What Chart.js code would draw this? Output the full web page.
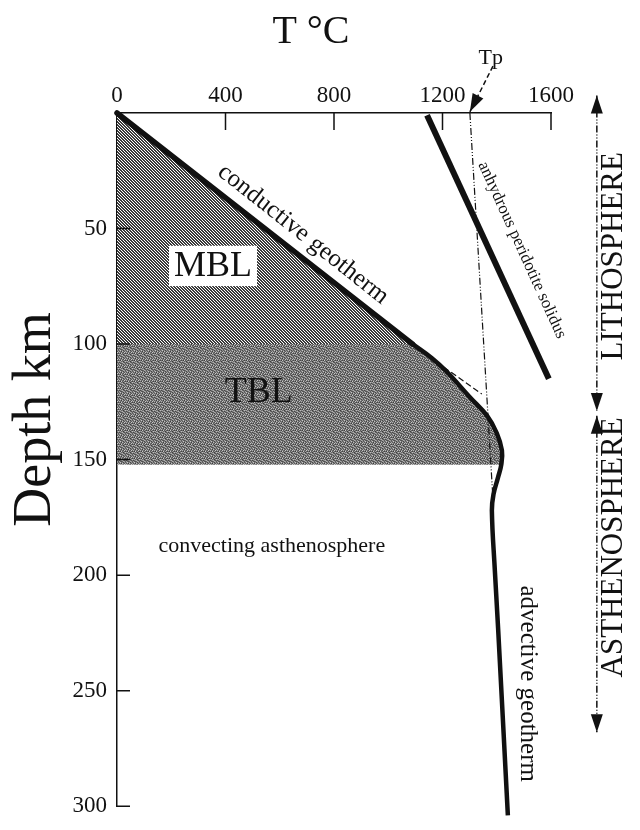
<!DOCTYPE html>
<html>
<head>
<meta charset="utf-8">
<title>Geotherm, MBL and TBL</title>
<script src="https://cdn.jsdelivr.net/npm/chart.js@4.4.0/dist/chart.umd.min.js"></script>
<style>
  html, body { margin:0; padding:0; background:#fff; }
  #geo { display:block; }
</style>
</head>
<body>
<canvas id="geo" width="640" height="830"></canvas>
<script>
'use strict';

/* ---- values: temperature (°C) vs depth (km) ---- */
const xTicks       = [0, 400, 800, 1200, 1600];
const yTicks       = [0, 50, 100, 150, 200, 250, 300];

const conductiveT  = [0, 1090];
const conductiveZ  = [0, 100];
const advectiveT   = [1090, 1160, 1216, 1301, 1364, 1400, 1419, 1417, 1404, 1388, 1382, 1393, 1405, 1441];
const advectiveZ   = [100, 106, 112, 123, 131, 138.5, 146, 152, 158, 165, 172, 198, 223, 304];
const solidusT     = [1143, 1592];
const solidusZ     = [1, 115];
const adiabatT     = [1301, 1385];           // Tp potential temperature adiabat
const adiabatZ     = [0, 165];
const extrapT      = [1205, 1345];           // conductive geotherm extrapolated
const extrapZ      = [110, 121.6];

const mblT = [0, 1090];                      // mechanical boundary layer (filled down to 100 km)
const mblZ = [0, 100];
const tblT = [0, 1090, 1160, 1216, 1301, 1364, 1400, 1419, 1417];   // thermal boundary layer (to 152 km)
const tblZ = [100, 100, 106, 112, 123, 131, 138.5, 146, 152];

// arrows (right-hand bracket and the Tp pointer), end points are the tips
const lithoT = [1769, 1769];
const lithoZ = [-7.6, 129];
const asthT  = [1769, 1769];
const asthZ  = [131, 268];
const tpT    = [1386, 1301];
const tpZ    = [-20.3, -0.5];

const INK   = '#111';
const SERIF = "'Liberation Serif', 'Times New Roman', serif";

// text placed in data units
const labels = [
  { text:'T °C',                         t:715,  z:-34.7, size:40, rot:0 },
  { text:'Depth km',                     t:-299, z:132.6, size:54, rot:-90 },
  { text:'MBL',                          t:354,  z:66.5,  size:36, rot:0, box:true },
  { text:'TBL',                          t:523,  z:120.8, size:36, rot:0 },
  { text:'conductive geotherm',          t:686,  z:52.5,  size:25, rot:38.4 },
  { text:'anhydrous peridotite solidus', t:1493, z:59.3,  size:17, rot:65.6 },
  { text:'convecting asthenosphere',     t:571,  z:187.7, size:22, rot:0 },
  { text:'advective geotherm',           t:1515, z:247,   size:25, rot:90 },
  { text:'LITHOSPHERE',                  t:1830, z:62,    size:31, rot:-90 },
  { text:'ASTHENOSPHERE',                t:1830, z:188,   size:31, rot:-90 },
  { text:'Tp',                           t:1378, z:-23.7, size:22, rot:0 },
];

// which arrow lines get heads, and at which ends
const arrows = [
  { t: lithoT, z: lithoZ, heads: [0, 1] },
  { t: asthT,  z: asthZ,  heads: [0, 1] },
  { t: tpT,    z: tpZ,    heads: [1] },
];

const pts = (xs, ys) => xs.map((x, i) => ({ x, y: ys[i] }));

// fill textures
function hatchPattern() {
  const c = document.createElement('canvas');
  c.width = 3; c.height = 3;
  const g = c.getContext('2d');
  g.fillStyle = '#3a3a3a'; g.fillRect(0, 0, 3, 3);
  g.fillStyle = '#fff';
  for (let i = 0; i < 3; i++) g.fillRect(i, i, 1, 1);
  return g.createPattern(c, 'repeat');
}
function stipplePattern() {
  // hand-set grey levels for a mottled screen
  const tile = [
    [120, 200, 110, 130,  70, 140, 100],
    [ 90, 130,  60, 190, 120,  90, 170],
    [180, 100, 140, 110,  80, 200, 110],
    [110,  60, 200,  90, 150, 100,  70],
    [140, 170, 100, 120,  60, 130, 190],
    [ 70, 110, 150, 180, 110,  80, 120],
    [160,  90,  80, 100, 170, 150,  90],
  ];
  const c = document.createElement('canvas');
  c.width = 7; c.height = 7;
  const g = c.getContext('2d');
  tile.forEach((row, j) => row.forEach((v, i) => {
    g.fillStyle = `rgb(${v},${v},${v})`; g.fillRect(i, j, 1, 1);
  }));
  return g.createPattern(c, 'repeat');
}

function head(ctx, tx, ty, fx, fy, len, half) {
  const dx = tx - fx, dy = ty - fy;
  const d = Math.hypot(dx, dy) || 1;
  const ux = dx / d, uy = dy / d;
  const bx = tx - ux * len, by = ty - uy * len;
  ctx.beginPath();
  ctx.moveTo(tx, ty);
  ctx.lineTo(bx - uy * half, by + ux * half);
  ctx.lineTo(bx + uy * half, by - ux * half);
  ctx.closePath();
  ctx.fill();
}

const annotate = {
  id: 'annotate',
  afterDatasetsDraw(chart) {
    const { ctx, chartArea: a, scales: { x, y } } = chart;
    ctx.save();
    ctx.strokeStyle = INK;
    ctx.fillStyle = INK;
    ctx.lineWidth = 1.5;
    ctx.beginPath();
    xTicks.slice(1).forEach(v => {
      const px = x.getPixelForValue(v);
      ctx.moveTo(px, a.top); ctx.lineTo(px, a.top + 17);
    });
    yTicks.slice(1).forEach(v => {
      const py = y.getPixelForValue(v);
      ctx.moveTo(a.left, py); ctx.lineTo(a.left + 13, py);
    });
    ctx.stroke();

    arrows.forEach(ar => {
      const p = ar.t.map((t, i) => [x.getPixelForValue(t), y.getPixelForValue(ar.z[i])]);
      ar.heads.forEach(h => {
        const o = h === 0 ? p[1] : p[0];
        head(ctx, p[h][0], p[h][1], o[0], o[1], 18, 6);
      });
    });

    labels.forEach(l => {
      ctx.save();
      ctx.translate(x.getPixelForValue(l.t), y.getPixelForValue(l.z));
      ctx.rotate(l.rot * Math.PI / 180);
      ctx.font = `${l.size}px ${SERIF}`;
      ctx.textAlign = 'center';
      ctx.textBaseline = 'middle';
      if (l.box) {
        const w = ctx.measureText(l.text).width + 10;
        ctx.fillStyle = '#fff';
        ctx.fillRect(-w / 2, -l.size * 0.58, w, l.size * 1.12);
      }
      ctx.fillStyle = INK;
      ctx.fillText(l.text, 0, 0);
      ctx.restore();
    });
    ctx.restore();
  }
};

const line = (data, extra) => Object.assign({
  data, showLine: true, pointRadius: 0, borderColor: INK, borderWidth: 1.5,
  tension: 0, fill: false, clip: false,
}, extra);

new Chart(document.getElementById('geo'), {
  type: 'scatter',
  data: {
    datasets: [
      line(pts(conductiveT, conductiveZ), { borderWidth: 5.5, borderCapStyle: 'round' }),
      line(pts(advectiveT, advectiveZ),   { borderWidth: 4.5, tension: 0.4 }),
      line(pts(solidusT, solidusZ),       { borderWidth: 6 }),
      line(pts(adiabatT, adiabatZ),       { borderWidth: 1.2, borderDash: [7, 2, 1, 2, 1, 2] }),
      line(pts(extrapT, extrapZ),         { borderWidth: 1.2, borderDash: [6, 3] }),
      line(pts(lithoT, lithoZ),           { borderDash: [7, 2, 1, 2, 1, 2] }),
      line(pts(asthT, asthZ),             { borderDash: [7, 2, 1, 2, 1, 2] }),
      line(pts(tpT, tpZ),                 { borderDash: [5, 3] }),
      line(pts(tblT, tblZ), { borderWidth: 0, borderColor: 'rgba(0,0,0,0)', fill: { value: 152.1 }, backgroundColor: stipplePattern() }),
      line(pts(mblT, mblZ), { borderWidth: 0, borderColor: 'rgba(0,0,0,0)', fill: { value: 100 }, backgroundColor: hatchPattern() }),
    ]
  },
  options: {
    responsive: false,
    animation: false,
    layout: { padding: { top: 0, left: 0, right: 89, bottom: 9 } },
    plugins: { legend: { display: false }, tooltip: { enabled: false } },
    scales: {
      x: {
        type: 'linear', position: 'top', min: 0, max: 1600,
        afterFit: s => { s.height = 113; },
        afterBuildTicks: s => { s.ticks = xTicks.map(v => ({ value: v })); },
        ticks: { font: { family: SERIF, size: 23 }, color: INK, padding: 3, maxRotation: 0,
                 callback: v => String(v) },
        grid: { display: true, drawOnChartArea: false, drawTicks: false },
        border: { display: true, color: INK, width: 1.5 },
      },
      y: {
        type: 'linear', reverse: true, min: 0, max: 300,
        afterFit: s => { s.width = 117; },
        afterBuildTicks: s => { s.ticks = yTicks.map(v => ({ value: v })); },
        ticks: { font: { family: SERIF, size: 23 }, color: INK, padding: 10,
                 callback: v => v === 0 ? '' : String(v) },
        grid: { display: true, drawOnChartArea: false, drawTicks: false },
        border: { display: true, color: INK, width: 1.5 },
      }
    }
  },
  plugins: [annotate]
});
</script>
</body>
</html>
